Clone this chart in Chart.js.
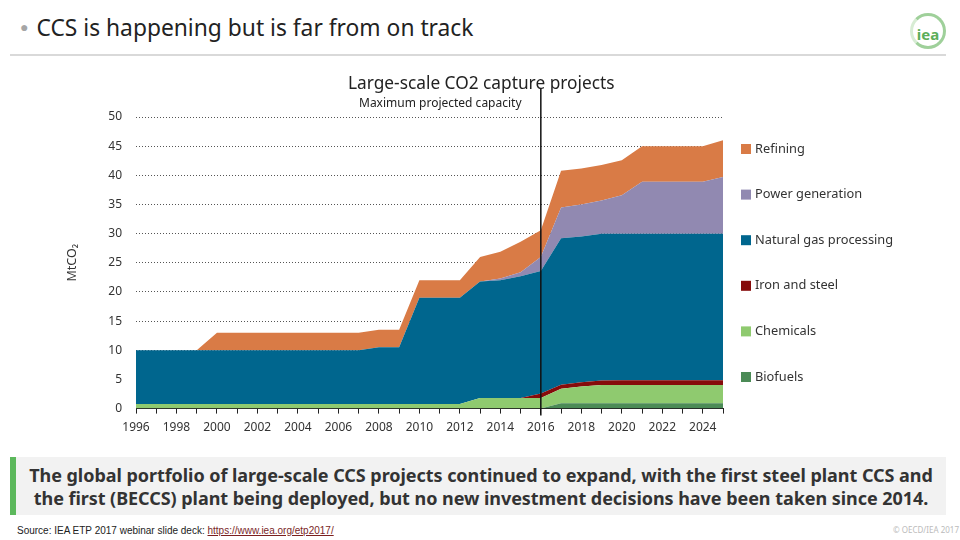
<!DOCTYPE html>
<html>
<head>
<meta charset="utf-8">
<script src="https://cdn.jsdelivr.net/npm/chart.js@4"></script>
<style>
  body { margin: 0; width: 960px; height: 540px; background: #fff; position: relative; overflow: hidden; font-family: "Noto Sans", "Open Sans", sans-serif; }
  #title { position: absolute; left: 20px; top: 12px; font-size: 22.8px; color: #222; white-space: nowrap; }
  #title .dot { color: #a6a6a6; font-size: 14px; margin-right: 8px; vertical-align: 4px; }
  #rule { position: absolute; left: 10px; top: 54px; width: 936px; height: 2px; background: #d9d9d9; }
  #logo { position: absolute; left: 910px; top: 13px; width: 30px; height: 30px; border: 3px solid #9fd09a; border-radius: 50%; border-left-color: #d7ecd4; color: #5cae5a; font-size: 15px; text-align: center; line-height: 36px; font-weight: bold; }
  #wrap { position: absolute; left: 40px; top: 60px; width: 880px; height: 384px; }
  #ctitle { position: absolute; left: 348px; top: 71px; font-size: 17.3px; color: #222; white-space: nowrap; z-index: 2; }
  #csub { position: absolute; left: 359px; top: 94px; font-size: 12px; color: #222; white-space: nowrap; z-index: 2; }
  #box { position: absolute; left: 10px; top: 457px; width: 930px; height: 58px; background: #f2f2f2; border-left: 6px solid #5cb85c; }
  #box div { text-align: center; font-weight: bold; font-size: 18px; color: #333; line-height: 23px; padding-top: 7px; letter-spacing: -0.05px; }
  #src { position: absolute; left: 17px; top: 525px; font-family: "Liberation Sans", Arial, sans-serif; font-size: 10px; color: #222; }
  #src a { color: #7a1f1f; }
  #copy { position: absolute; left: 893px; top: 524px; font-size: 8px; color: #bbb; white-space: nowrap; }
</style>
</head>
<body>
<div id="title"><span class="dot">&#9679;</span>CCS is happening but is far from on track</div>
<div id="rule"></div>
<div id="logo">iea</div>
<div id="ctitle">Large-scale CO2 capture projects</div>
<div id="csub">Maximum projected capacity</div>
<div id="wrap"><canvas id="chart"></canvas></div>
<div id="box"><div>The global portfolio of large-scale CCS projects continued to expand, with the first steel plant CCS and<br>the first (BECCS) plant being deployed, but no new investment decisions have been taken since 2014.</div></div>
<div id="src">Source: IEA ETP 2017 webinar slide deck: <a href="#">https://www.iea.org/etp2017/</a></div>
<div id="copy">&copy; OECD/IEA 2017</div>
<script>
// années 1996 - 2025
const years = [];
for (let y = 1996; y <= 2025; y++) years.push(String(y));

// valeurs (MtCO2, empilées)
const biofuels   = [0,0,0,0,0,0,0,0,0,0,0,0,0,0,0,0,0,0,0,0,0,0.9,0.9,0.9,0.9,0.9,0.9,0.9,0.9,0.9];
const chemicals  = [0.8,0.8,0.8,0.8,0.8,0.8,0.8,0.8,0.8,0.8,0.8,0.8,0.8,0.8,0.8,0.8,0.8,1.8,1.8,1.8,1.8,2.5,2.9,3.15,3.15,3.15,3.15,3.15,3.15,3.15];
const ironSteel  = [0,0,0,0,0,0,0,0,0,0,0,0,0,0,0,0,0,0,0,0,0.8,0.7,0.7,0.75,0.8,0.8,0.8,0.8,0.8,0.8];
const naturalGas = [9.2,9.2,9.2,9.2,9.2,9.2,9.2,9.2,9.2,9.2,9.2,9.2,9.7,9.7,18.2,18.2,18.2,20.0,20.2,20.9,21.0,25.1,25.0,25.2,25.15,25.15,25.15,25.15,25.15,25.15];
const powerGen   = [0,0,0,0,0,0,0,0,0,0,0,0,0,0,0,0,0,0,0.3,0.7,2.4,5.3,5.5,5.7,6.6,8.9,8.9,8.9,8.9,9.7];
const refining   = [0,0,0,0,3,3,3,3,3,3,3,3,3,3,3,3,3,4.2,4.6,5.2,4.6,6.3,6.15,6.05,6.0,6.1,6.1,6.1,6.1,6.3];

const yTicks = [0, 5, 10, 15, 20, 25, 30, 35, 40, 45, 50];

function serie(label, data, color) {
    return {
        label: label,
        data: data,
        backgroundColor: color,
        borderColor: color,
        borderWidth: 0,
        pointRadius: 0,
        tension: 0,
        fill: label === "Biofuels" ? "origin" : "-1",
    };
}

// ligne verticale 2016
const line2016 = {
    id: "line2016",
    afterDatasetsDraw(chart) {
        const x = chart.scales.x.getPixelForValue(years.indexOf("2016"));
        const ctx = chart.ctx;
        ctx.save();
        ctx.strokeStyle = "#111";
        ctx.lineWidth = 1.5;
        ctx.beginPath();
        ctx.moveTo(x, 28);
        ctx.lineTo(x, chart.chartArea.bottom + 7);
        ctx.stroke();
        ctx.restore();
    }
};

// légende à droite, dans l'ordre inverse des séries
const sideLegend = {
    id: "sideLegend",
    afterDraw(chart) {
        const ctx = chart.ctx;
        const sets = chart.data.datasets.slice().reverse();
        const x = chart.chartArea.right + 18;
        ctx.save();
        ctx.font = "12.8px 'Noto Sans'";
        ctx.textBaseline = "middle";
        sets.forEach((ds, i) => {
            const y = 89 + i * 45.6;
            ctx.fillStyle = ds.backgroundColor;
            ctx.fillRect(x, y - 5, 10, 10);
            ctx.fillStyle = "#333";
            ctx.fillText(ds.label, x + 14, y);
        });
        ctx.restore();
    }
};

const ctx = document.getElementById("chart").getContext("2d");
const chart = new Chart(ctx, {
    type: "line",
    data: {
        labels: years,
        datasets: [
            serie("Biofuels", biofuels, "#4b8b56"),
            serie("Chemicals", chemicals, "#8fca6f"),
            serie("Iron and steel", ironSteel, "#860b0b"),
            serie("Natural gas processing", naturalGas, "#00668e"),
            serie("Power generation", powerGen, "#9189b1"),
            serie("Refining", refining, "#d97b46"),
        ],
    },
    plugins: [line2016, sideLegend],
    options: {
        responsive: true,
        maintainAspectRatio: false,
        animation: false,
        layout: { padding: { top: 57, right: 197, left: 0, bottom: 2 } },
        plugins: {
            tooltip: { enabled: false },
            legend: { display: false },
        },
        scales: {
            x: {
                offset: false,
                grid: { drawOnChartArea: false, drawTicks: true, tickLength: 5, color: "#222" },
                border: { display: true, color: "#222" },
                ticks: {
                    autoSkip: false,
                    maxRotation: 0,
                    color: "#333",
                    padding: 7,
                    font: { family: "Noto Sans", size: 12 },
                    callback: (v, i) => (i % 2 === 0 ? years[i] : ""),
                },
            },
            y: {
                stacked: true,
                min: 0,
                max: 50,
                afterBuildTicks: (scale) => { scale.ticks = yTicks.map((v) => ({ value: v })); },
                afterFit: (scale) => { scale.width = 96; },
                grid: { drawTicks: false, color: "#555", borderDash: [1, 2] },
                border: { display: false, dash: [1, 2] },
                ticks: { color: "#333", padding: 14, font: { family: "Noto Sans", size: 12 } },
                title: {
                    display: true,
                    text: "MtCO\u2082",
                    color: "#333",
                    font: { family: "Noto Sans", size: 12.5 },
                    padding: { top: 25, bottom: 0 },
                },
            },
        },
    },
});
</script>
</body>
</html>
